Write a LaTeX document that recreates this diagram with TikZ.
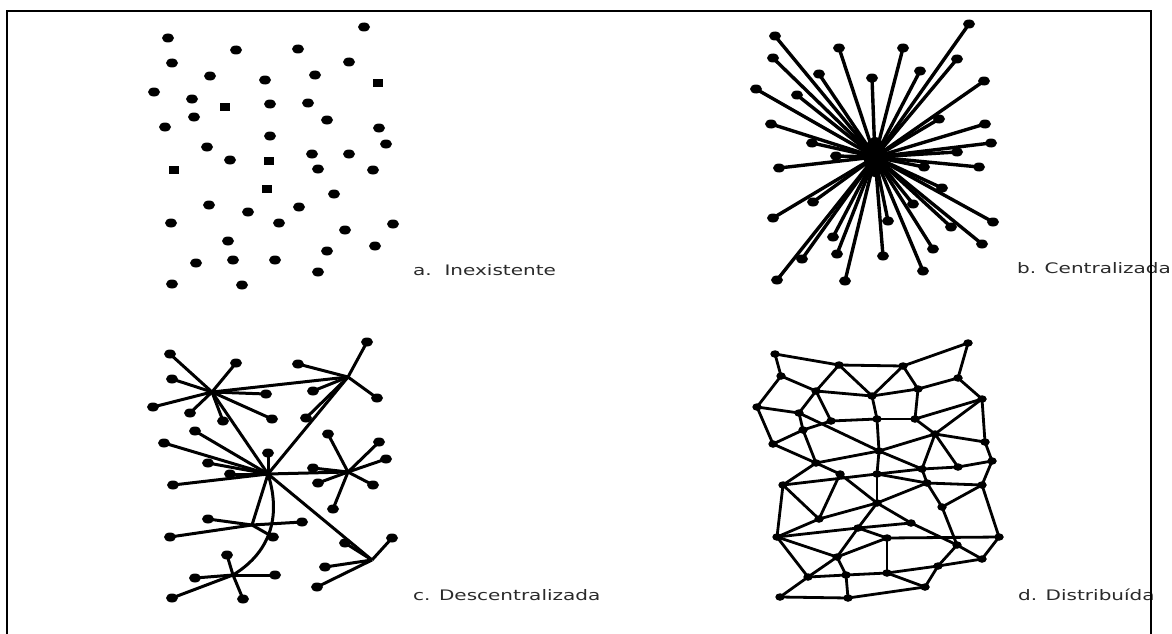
\documentclass[tikz,border=0pt]{standalone}
\usepackage{fontspec}
\newfontfamily\labfont{DejaVu Sans}
\usetikzlibrary{shapes.geometric}
\definecolor{labgrey}{HTML}{2A2A2A}
\tikzset{
  dot/.style={ellipse, fill=black, inner sep=0pt, minimum width=12pt, minimum height=9pt},
  sqdot/.style={rectangle, fill=black, inner sep=0pt, minimum width=10pt, minimum height=8pt},
  sdot/.style={ellipse, fill=black, inner sep=0pt, minimum width=9.5pt, minimum height=7.5pt},
  hubdot/.style={ellipse, fill=black, inner sep=0pt, minimum width=22pt, minimum height=40pt},
  spoke/.style={line width=3.4pt},
  clink/.style={line width=3pt},
  mesh/.style={line width=2.8pt},
  frame/.style={line width=1.6pt},
  lab/.style={anchor=west, inner sep=0pt, text=labgrey, font=\labfont\fontsize{14.5}{16}\selectfont},
}
\begin{document}
\begin{tikzpicture}[x=1pt,y=-1pt]
\useasboundingbox (0,0) rectangle (1172,634);
% ---------- a. Inexistente ----------
\foreach \x/\y [count=\i] in {364/27,168/38,236/50,298/49,172/63,349/62,210/76,265/80,315/75,154/92,192/99,270/104,308/103,194/117,327/120,165/127,379/128,270/136,386/144,207/147,230/160,312/154,349/154,318/169,373/170,334/194,209/205,248/212,299/207,171/223,279/223,345/230,393/224,228/241,375/246,327/251,196/263,233/260,275/260,318/272,172/284,242/285}
  \node[dot] (a\i) at (\x,\y) {};
\foreach \x/\y [count=\i] in {378/83,225/107,269/161,174/170,267/189}
  \node[sqdot] (as\i) at (\x,\y) {};
\node[lab] (la) at (413,270) {\scalebox{1.38}[1]{a.\ \ Inexistente}};
% ---------- b. Centralizada ----------
\node[hubdot] (bh) at (875,157) {};
\foreach \x/\y [count=\i] in {969/24,775/36,839/48,903/48,773/58,957/59,819/74,920/71,872/78,984/81,756/89,797/95,939/119,771/124,985/124,812/143,991/143,836/156,957/152,779/168,924/167,979/167,942/188,813/202,913/204,773/218,993/222,888/221,951/227,833/237,837/254,802/259,883/256,933/249,982/244,923/271,777/280,845/281}
{
  \node[dot] (b\i) at (\x,\y) {};
  \draw[spoke] (b\i.center) -- (bh.center);
}
\node[lab] (lb) at (1017,268) {\scalebox{1.38}[1]{b. Centralizada}};
% ---------- c. Descentralizada ----------
\coordinate (ch1) at (212,392);
\coordinate (ch2) at (348,377);
\coordinate (ch3) at (268,474);
\coordinate (ch4) at (348,472);
\coordinate (ch5) at (372,560);
\coordinate (ch6) at (233,575);
\coordinate (ch7) at (252,525);
\foreach \h/\x/\y [count=\i] in {1/170/354,1/236/363,1/172/379,1/266/394,1/153/407,1/190/413,1/272/419,1/223/421,
  2/367/342,2/298/364,2/313/391,2/377/398,2/306/418,
  3/195/431,3/164/443,3/268/453,3/208/463,3/230/474,3/173/485,
  4/328/434,4/379/442,4/386/459,4/313/468,4/318/483,4/373/485,4/333/509,
  7/208/519,7/273/537,7/170/537,7/302/522,
  5/345/543,5/392/538,5/325/567,5/317/587,
  6/227/555,6/195/578,6/275/575,6/172/598,6/243/599}
{
  \node[dot] (c\i) at (\x,\y) {};
  \draw[clink] (c\i.center) -- (ch\h);
}
\draw[clink] (ch1) -- (ch2);
\draw[clink] (ch1) -- (ch3);
\draw[clink] (ch2) -- (ch3);
\draw[clink] (ch3) -- (ch4);
\draw[clink] (ch3) -- (ch5);
\draw[clink] (ch3) -- (ch7);
\draw[clink] (ch3) .. controls (280,512) and (274,550) .. (ch6);
\node[lab] (lc) at (413,595) {\scalebox{1.38}[1]{c. Descentralizada}};
% ---------- d. Distribuida ----------
\foreach \x/\y [count=\i] in {775/354,839/365,903/366,968/343,781/376,816/391,872/396,918/389,958/378,982/399,
  757/407,799/413,831/421,877/419,915/419,803/430,935/434,773/444,985/442,879/451,
  816/463,992/461,958/467,922/469,840/474,877/474,783/485,927/483,982/485,877/503,
  942/507,819/519,911/523,858/528,777/537,887/538,957/545,999/537,837/557,982/559,
  938/566,808/577,846/575,887/573,925/587,780/597,848/598}
  \node[sdot] (d\i) at (\x,\y) {};
\foreach \p/\q in {1/2,1/5,2/3,3/4,4/9,2/6,2/7,3/7,3/8,5/6,5/11,6/7,7/8,8/9,9/10,8/15,7/14,6/12,6/13,
  11/12,11/18,12/16,12/20,20/24,13/14,13/16,14/15,15/10,10/17,10/19,14/20,15/17,17/19,18/16,18/21,
  16/21,21/20,20/17,20/26,26/30,21/27,21/25,27/26,26/24,24/23,23/22,17/24,17/23,19/22,25/30,25/32,
  27/32,27/35,26/28,28/29,28/24,28/31,29/22,29/38,29/31,30/28,30/32,30/33,33/37,30/34,35/32,35/34,
  34/33,36/38,34/39,35/39,35/42,36/44,36/39,37/40,37/41,37/31,38/40,39/42,39/43,42/43,43/44,44/41,
  44/45,41/45,41/40,42/46,46/47,47/43,47/45,34/36}
  \draw[mesh] (d\p.center) -- (d\q.center);
\node[lab] (ld) at (1018,595) {\scalebox{1.38}[1]{d. Distribuída}};
% ---------- frame ----------
\coordinate (f1) at (7,634);
\coordinate (f2) at (7,11);
\coordinate (f3) at (1151,11);
\coordinate (f4) at (1151,634);
\draw[frame] (f1) -- (f2) -- (f3) -- (f4);
\end{tikzpicture}
\end{document}
